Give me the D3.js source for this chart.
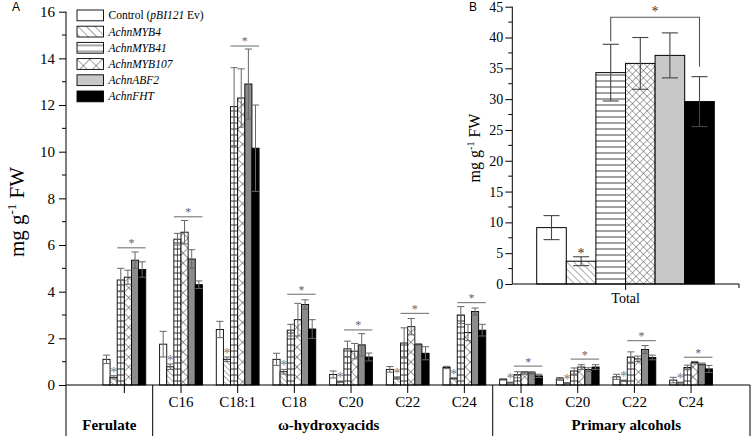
<!DOCTYPE html>
<html><head><meta charset="utf-8">
<script src="https://cdn.jsdelivr.net/npm/d3@7"></script>
<style>
body{margin:0;background:#fff}
svg{display:block}
text{font-family:"Liberation Serif","Times New Roman",serif;fill:#000}
</style>
</head><body>
<svg id="chart" width="752" height="436"></svg>
<script>
// ---------- DATA ----------
const categories = ["Ferulate","C16","C18:1","C18","C20","C22","C24","C18","C20","C22","C24"];
const seriesKeys = ["ctrl","myb4","myb41","myb107","abf2","fht"];
const control    = [1.10,1.75,2.38,1.10,0.45,0.67,0.75,0.24,0.26,0.35,0.21];
const controlErr = [0.18,0.55,0.35,0.26,0.15,0.12,0.05,0.03,0.06,0.11,0.12];
const myb4       = [0.33,0.78,1.10,0.57,0.14,0.30,0.28,0.10,0.08,0.18,0.10];
const myb4Err    = [0.07,0.12,0.10,0.10,0.03,0.05,0.03,0.02,0.02,0.03,0.02];
const myb41      = [4.50,6.25,11.93,2.35,1.55,1.80,3.00,0.44,0.60,1.20,0.75];
const myb41Err   = [0.50,0.25,1.67,0.25,0.33,0.65,0.36,0.13,0.13,0.22,0.10];
const myb107     = [4.62,6.55,12.30,2.80,1.45,2.50,2.25,0.52,0.77,1.12,0.96];
const myb107Err  = [0.30,0.50,1.25,0.70,0.33,0.35,0.35,0.06,0.10,0.12,0.05];
const abf2       = [5.35,5.40,12.90,3.45,1.72,1.74,3.15,0.52,0.66,1.52,0.89];
const abf2Err    = [0.35,0.40,1.50,0.20,0.48,0.03,0.15,0.05,0.08,0.17,0.05];
const fht        = [4.95,4.30,10.15,2.40,1.20,1.36,2.35,0.39,0.77,1.18,0.69];
const fhtErr     = [0.33,0.16,1.85,0.40,0.17,0.28,0.25,0.07,0.10,0.10,0.15];
const sigLevel   = [5.88,7.21,14.53,3.89,2.36,3.07,3.53,0.81,1.11,1.90,1.19];
const mainTicks  = [0,2,4,6,8,10,12,14,16];
const classLabels = ["Ferulate","ω-hydroxyacids","Primary alcohols"];
const classFirst  = [0,1,7];
const classLast   = [0,6,10];
const legendLabels = ["Control (pBI121 Ev)","AchnMYB4","AchnMYB41","AchnMYB107","AchnABF2","AchnFHT"];
const totalValues = [9.15,3.7,34.3,35.8,37.1,29.6];
const totalErr    = [1.95,0.72,4.6,4.2,3.65,4.05];
const insetTicks  = [0,5,10,15,20,25,30,35,40,45];

const values = [control,myb4,myb41,myb107,abf2,fht];
const errs   = [controlErr,myb4Err,myb41Err,myb107Err,abf2Err,fhtErr];

// ---------- SETUP ----------
const svg = d3.select("#chart");
const defs = svg.append("defs");

function linePattern(id, size, angle, cross, color, sw){
  const p = defs.append("pattern").attr("id",id).attr("patternUnits","userSpaceOnUse")
    .attr("width",size).attr("height",size).attr("patternTransform",`rotate(${angle})`);
  p.append("rect").attr("width",size).attr("height",size).attr("fill","#fff");
  p.append("line").attr("x1",0).attr("y1",0).attr("x2",0).attr("y2",size).attr("stroke",color).attr("stroke-width",sw);
  if(cross) p.append("line").attr("x1",0).attr("y1",0).attr("x2",size).attr("y2",0).attr("stroke",color).attr("stroke-width",sw);
}
function hPattern(id, size, color, sw){
  const p = defs.append("pattern").attr("id",id).attr("patternUnits","userSpaceOnUse")
    .attr("width",8).attr("height",size);
  p.append("rect").attr("width",8).attr("height",size).attr("fill","#fff");
  p.append("line").attr("x1",0).attr("y1",size/2).attr("x2",8).attr("y2",size/2).attr("stroke",color).attr("stroke-width",sw);
}
// main
linePattern("m-diag",4,-45,false,"#222",0.8);
hPattern("m-h",6,"#222",0.9);
linePattern("m-x",7,45,true,"#222",0.9);
// inset
linePattern("i-diag",5,-45,false,"#333",0.8);
hPattern("i-h",6,"#444",1);
linePattern("i-x",5.2,45,true,"#333",0.8);
// legend
linePattern("l-diag",6,-45,false,"#333",0.9);
hPattern("l-h",6,"#555",1);
linePattern("l-x",9,45,true,"#333",0.9);

const mainFill  = ["#fff","url(#m-diag)","url(#m-h)","url(#m-x)","#8c8c8c","#000"];
const insetFill = ["#fff","url(#i-diag)","url(#i-h)","url(#i-x)","#c8c8c8","#000"];
const legFill   = ["#fff","url(#l-diag)","url(#l-h)","url(#l-x)","#c8c8c8","#000"];

// ---------- MAIN CHART ----------
const axisX0 = 66, axisX1 = 750, baseY = 385, bottomY = 436;
const x = d3.scaleBand().domain(d3.range(categories.length)).range([96, 719.4]).paddingInner(0).paddingOuter(0);
const groupW = 42.8;
const x1 = d3.scaleBand().domain(seriesKeys).range([0, groupW]);
const gOff = (x.bandwidth()-groupW)/2;
const y = d3.scaleLinear().domain([0,16]).range([baseY, 11.7]);

// y axis
const yAxis = d3.axisLeft(y).tickValues(mainTicks).tickSize(7).tickPadding(4).tickFormat(d3.format("d"));
const gy = svg.append("g").attr("transform",`translate(${axisX0},0)`).call(yAxis);
gy.select(".domain").attr("d",`M0,${y(16)}V${baseY}`).attr("stroke","#000");
gy.selectAll(".tick text").attr("font-size",15).attr("font-family","Liberation Serif");
gy.selectAll(".tick line").attr("stroke","#000");
gy.selectAll(".minor").data(d3.range(1,16,2)).enter().append("line")
  .attr("x1",-4).attr("x2",0).attr("y1",d=>y(d)).attr("y2",d=>y(d)).attr("stroke","#000");

// bars
const bw = x1.bandwidth();
seriesKeys.forEach((k,si)=>{
  const g = svg.append("g");
  g.selectAll("rect").data(values[si]).enter().append("rect")
    .attr("x",(d,i)=>x(i)+gOff+x1(k))
    .attr("y",d=>y(d)).attr("width",bw).attr("height",d=>baseY-y(d))
    .attr("fill",mainFill[si]).attr("stroke","#000").attr("stroke-width",0.9);
  if(k==="myb41"){
    g.selectAll("line.c").data(values[si]).enter().append("line")
      .attr("x1",(d,i)=>x(i)+gOff+x1(k)+bw/2).attr("x2",(d,i)=>x(i)+gOff+x1(k)+bw/2)
      .attr("y1",d=>y(d)).attr("y2",baseY).attr("stroke","#222").attr("stroke-width",0.8);
  }
});
// error bars
seriesKeys.forEach((k,si)=>{
  const g = svg.append("g").attr("stroke","#666").attr("stroke-width",1).attr("fill","none");
  values[si].forEach((v,i)=>{
    const e = errs[si][i];
    const cx = x(i)+gOff+x1(k)+bw/2;
    const yt = y(v+e), yb = y(Math.max(0,v-e));
    g.append("line").attr("x1",cx).attr("x2",cx).attr("y1",yt).attr("y2",yb);
    g.append("line").attr("x1",cx-bw/2).attr("x2",cx+bw/2).attr("y1",yt).attr("y2",yt);
    g.append("line").attr("x1",cx-bw/2).attr("x2",cx+bw/2).attr("y1",yb).attr("y2",yb);
  });
});
// asterisks over MYB4
svg.append("g").selectAll("text").data(myb4).enter().append("text")
  .attr("x",(d,i)=>x(i)+gOff+x1("myb4")+bw/2)
  .attr("y",(d,i)=>y(d+myb4Err[i])+1)
  .attr("text-anchor","middle").attr("font-size",14).style("fill","#777").text("*");
// significance lines
const sg = svg.append("g");
sigLevel.forEach((s,i)=>{
  const xa = x(i)+gOff+x1("myb41"), xb = x(i)+gOff+x1("fht")+bw;
  sg.append("line").attr("x1",xa).attr("x2",xb).attr("y1",y(s)).attr("y2",y(s)).attr("stroke","#777").attr("stroke-width",1.1);
  sg.append("text").attr("x",(xa+xb)/2).attr("y",y(s)-0.5).attr("text-anchor","middle").attr("font-size",12).style("fill","#666").text("*");
});

// x axis line + table
const tb = svg.append("g").attr("stroke","#000").attr("stroke-width",1);
tb.append("line").attr("x1",axisX0).attr("x2",axisX1).attr("y1",baseY).attr("y2",baseY).attr("stroke-width",1.2);
categories.forEach((c,i)=>{
  const cx = x(i)+x.bandwidth()/2;
  tb.append("line").attr("x1",cx).attr("x2",cx).attr("y1",baseY).attr("y2",baseY+8);
});
const borders = [axisX0, x(1), x(7), axisX1];
borders.forEach(b=>tb.append("line").attr("x1",b).attr("x2",b).attr("y1",baseY).attr("y2",bottomY));
svg.append("g").selectAll("text").data(categories).enter().append("text")
  .attr("x",(d,i)=>x(i)+x.bandwidth()/2).attr("y",407)
  .attr("text-anchor","middle").attr("font-size",15).text((d,i)=>i===0?"":d);
const classShift = [0,6,5];
svg.append("g").selectAll("text").data(classLabels).enter().append("text")
  .attr("x",(d,i)=>{
    const a = i===0?axisX0:x(classFirst[i]);
    const b = i===2?axisX1:x(classLast[i])+x.bandwidth();
    return (a+b)/2 + classShift[i];})
  .attr("y",430).attr("text-anchor","middle").attr("font-size",15).attr("font-weight","bold").text(d=>d);

// y title
const yt = svg.append("text").attr("transform","translate(24,212) rotate(-90)")
  .attr("text-anchor","middle").attr("font-size",21);
yt.append("tspan").text("mg g");
yt.append("tspan").attr("dy",-8).attr("font-size",13).text("-1");
yt.append("tspan").attr("dy",8).text(" FW");

svg.append("text").attr("x",12).attr("y",11).attr("font-size",12)
  .style("font-family","Liberation Sans, Arial, sans-serif").text("A");

// legend
const lg = svg.append("g").attr("transform","translate(77,10)");
legendLabels.forEach((l,i)=>{
  const r = lg.append("g").attr("transform",`translate(0,${i*16.2})`);
  r.append("rect").attr("width",26.5).attr("height",10.8).attr("fill",legFill[i]).attr("stroke","#000").attr("stroke-width",0.9);
  const t = r.append("text").attr("x",31.5).attr("y",9.3).attr("font-size",11.5);
  if(i===0){
    t.append("tspan").text("Control (");
    t.append("tspan").attr("font-style","italic").text("pBI121");
    t.append("tspan").text(" Ev)");
  } else {
    t.attr("font-style","italic").text(l);
  }
});

// ---------- INSET ----------
const ix0 = 512.3, ix1 = 739, iBase = 284;
const iy = d3.scaleLinear().domain([0,45]).range([iBase, 6.7]);
const ixs = d3.scaleBand().domain(seriesKeys).range([536.7, 714.3]);
const ibw = ixs.bandwidth();
const iAxis = d3.axisLeft(iy).tickValues(insetTicks).tickSize(7).tickPadding(2);
const giy = svg.append("g").attr("transform",`translate(${ix0},0)`).call(iAxis);
giy.select(".domain").attr("d",`M0,${iy(45)}V${iBase}`).attr("stroke","#000");
giy.selectAll(".tick text").attr("font-size",14).attr("font-family","Liberation Serif");
giy.selectAll(".tick line").attr("stroke","#000");
giy.selectAll(".minor").data(d3.range(2.5,45,5)).enter().append("line")
  .attr("x1",-4).attr("x2",0).attr("y1",d=>iy(d)).attr("y2",d=>iy(d)).attr("stroke","#000");

svg.append("g").selectAll("rect").data(totalValues).enter().append("rect")
  .attr("x",(d,i)=>ixs(seriesKeys[i])).attr("y",d=>iy(d))
  .attr("width",ibw).attr("height",d=>iBase-iy(d))
  .attr("fill",(d,i)=>insetFill[i]).attr("stroke","#000").attr("stroke-width",1);
const ieg = svg.append("g").attr("stroke","#444").attr("stroke-width",1.1);
totalValues.forEach((v,i)=>{
  const cx = ixs(seriesKeys[i])+ibw/2, e = totalErr[i];
  const a = iy(v+e), b = iy(v-e);
  ieg.append("line").attr("x1",cx).attr("x2",cx).attr("y1",a).attr("y2",b);
  ieg.append("line").attr("x1",cx-8).attr("x2",cx+8).attr("y1",a).attr("y2",a);
  ieg.append("line").attr("x1",cx-8).attr("x2",cx+8).attr("y1",b).attr("y2",b);
});
// inset x-axis
const iax = svg.append("g").attr("stroke","#000");
iax.append("line").attr("x1",ix0).attr("x2",ix1).attr("y1",iBase).attr("y2",iBase).attr("stroke-width",1.2);
iax.append("line").attr("x1",(ix0+ix1)/2).attr("x2",(ix0+ix1)/2).attr("y1",iBase).attr("y2",iBase+6);
iax.append("line").attr("x1",ix1).attr("x2",ix1).attr("y1",iBase).attr("y2",iBase+4);
svg.append("text").attr("x",(ix0+ix1)/2).attr("y",303).attr("text-anchor","middle").attr("font-size",14).text("Total");
// inset star on MYB4
svg.append("text").attr("x",ixs("myb4")+ibw/2).attr("y",iy(totalValues[1]+totalErr[1])+1)
  .attr("text-anchor","middle").attr("font-size",14).style("fill","#333").text("*");
// bracket
const bxa = ixs("myb41")+ibw/2, bxb = ixs("fht")+ibw/2;
const byTop = iy(43.3);
svg.append("path").attr("d",`M${bxa},${iy(totalValues[2]+totalErr[2])-3}V${byTop}H${bxb}V${iy(totalValues[5]+totalErr[5])-10}`)
  .attr("fill","none").attr("stroke","#555").attr("stroke-width",1.1);
svg.append("text").attr("x",(bxa+bxb)/2).attr("y",byTop-1).attr("text-anchor","middle").attr("font-size",14).style("fill","#333").text("*");
// inset y title
const iyt = svg.append("text").attr("transform","translate(480,148) rotate(-90)")
  .attr("text-anchor","middle").attr("font-size",16);
iyt.append("tspan").text("mg g");
iyt.append("tspan").attr("dy",-6).attr("font-size",10).text("-1");
iyt.append("tspan").attr("dy",6).text(" FW");
svg.append("text").attr("x",469).attr("y",11).attr("font-size",12)
  .style("font-family","Liberation Sans, Arial, sans-serif").text("B");
</script>
</body></html>
